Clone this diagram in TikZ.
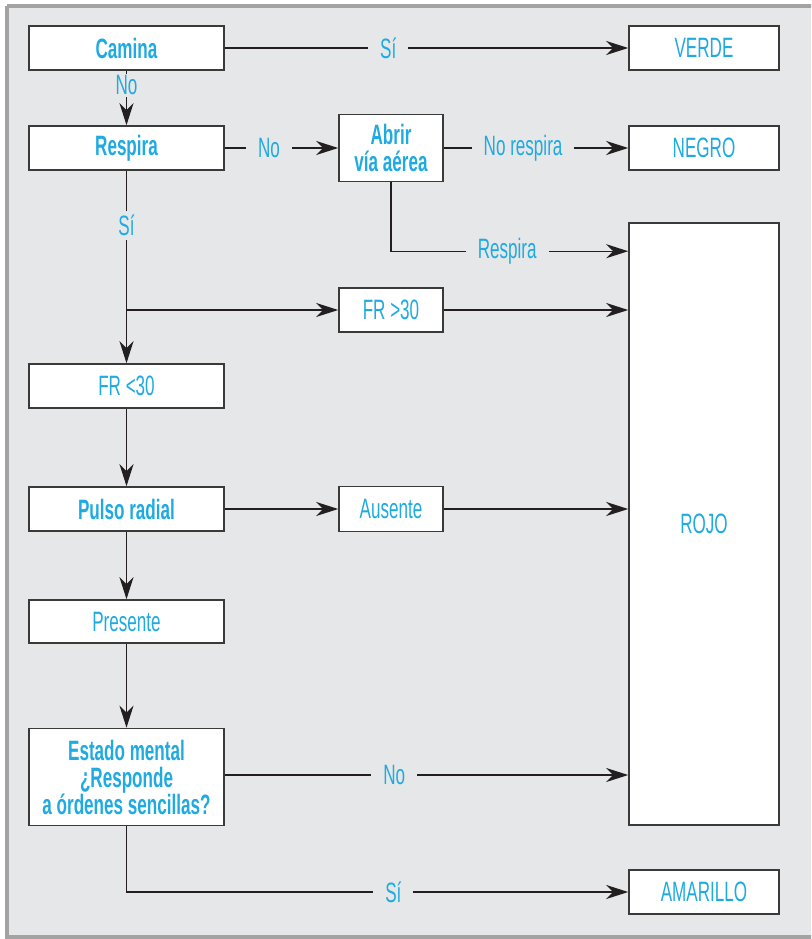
\documentclass[tikz,border=0pt]{standalone}
\usepackage{fontspec}
\setmainfont[FakeStretch=0.61]{Liberation Sans}
\usetikzlibrary{arrows.meta}

\definecolor{paper}{HTML}{E6E7E8}
\definecolor{framegray}{HTML}{A3A3A3}
\definecolor{ink}{HTML}{231F20}
\definecolor{edge}{HTML}{3A3A3A}
\definecolor{cyantext}{HTML}{1FAAE1}

\tikzset{
  box/.style={draw=edge, line width=1.6pt, fill=white, inner sep=0pt,
    text=cyantext, align=center, font=\fontsize{28}{27}\selectfont},
  qbox/.style={box, font=\fontsize{28}{27}\selectfont\bfseries},
  link/.style={draw=ink, line width=1.3pt},
  arrow/.style={link, -{Stealth[length=22pt,width=14pt,inset=7pt]}},
  tag/.style={fill=paper, text=cyantext, inner xsep=12pt, inner ysep=4pt,
    font=\fontsize{28}{27}\selectfont},
}

\begin{document}
\begin{tikzpicture}[x=1pt,y=-1pt]
  \useasboundingbox (0,0) rectangle (811,939);
  \clip (0,0) rectangle (811,939);

  % panel background and frame
  \fill[white] (0,0) rectangle (811,939);
  \fill[paper] (7,6) rectangle (830,937);
  \draw[framegray, line width=3.5pt] (7,6) -- (830,6) (7,6) -- (7,937) -- (830,937);

  % left column
  \node[qbox, minimum width=195pt, minimum height=44pt] (camina)   at (126.5,48)  {Camina};
  \node[qbox, minimum width=195pt, minimum height=44pt] (respira)  at (126.5,148) {Respira};
  \node[box,  minimum width=195pt, minimum height=44pt] (frlow)    at (126.5,386) {FR <30};
  \node[qbox, minimum width=195pt, minimum height=44pt] (pulso)    at (126.5,509) {Pulso radial};
  \node[box,  minimum width=195pt, minimum height=43pt] (presente) at (126.5,621.5) {Presente};
  \node[qbox, minimum width=195pt, minimum height=97pt] (estado)   at (126.5,777)
    {Estado mental\\¿Responde\\a órdenes sencillas?};

  % middle column
  \node[qbox, minimum width=104pt, minimum height=67pt] (abrir)   at (391,148) {Abrir\\vía aérea};
  \node[box,  minimum width=104pt, minimum height=44pt] (frhigh)  at (391,310) {FR >30};
  \node[box,  minimum width=104pt, minimum height=45pt] (ausente) at (391,509) {Ausente};

  % triage categories
  \node[box, minimum width=150pt, minimum height=44pt]  (verde)    at (704,48)  {VERDE};
  \node[box, minimum width=150pt, minimum height=44pt]  (negro)    at (704,148) {NEGRO};
  \node[box, minimum width=150pt, minimum height=602pt] (rojo)     at (704,524) {ROJO};
  \node[box, minimum width=150pt, minimum height=44pt]  (amarillo) at (704,892) {AMARILLO};

  % connectors
  \draw[arrow] (camina.east) -- node[tag, pos=0.405] {Sí} (verde.west);
  \draw[arrow] (camina.south) -- node[tag, pos=0.27, inner ysep=2pt] {No} (respira.north);
  \draw[arrow] (respira.east) -- node[tag, pos=0.39] {No} (abrir.west);
  \draw[arrow] (abrir.east) -- node[tag, pos=0.43] {No respira} (negro.west);
  \draw[arrow] (abrir.south) |- node[tag, pos=0.745] {Respira} ([yshift=-29pt]rojo.north west);

  \coordinate (split) at (126.5,310);
  \draw[arrow] (respira.south) -- node[tag, pos=0.285] {Sí} (frlow.north);
  \draw[arrow] (split) -- (frhigh.west);
  \draw[arrow] (frhigh.east) -- (frhigh.east -| rojo.west);

  \draw[arrow] (frlow.south) -- (pulso.north);
  \draw[arrow] (pulso.east) -- (ausente.west);
  \draw[arrow] (ausente.east) -- (ausente.east -| rojo.west);
  \draw[arrow] (pulso.south) -- (presente.north);
  \draw[arrow] (presente.south) -- (estado.north);

  \draw[arrow] ([yshift=2pt]estado.east) -- node[tag, pos=0.42] {No} ([yshift=2pt]estado.east -| rojo.west);
  \draw[arrow] (estado.south) |- node[tag, pos=0.766] {Sí} (amarillo.west);
\end{tikzpicture}
\end{document}
